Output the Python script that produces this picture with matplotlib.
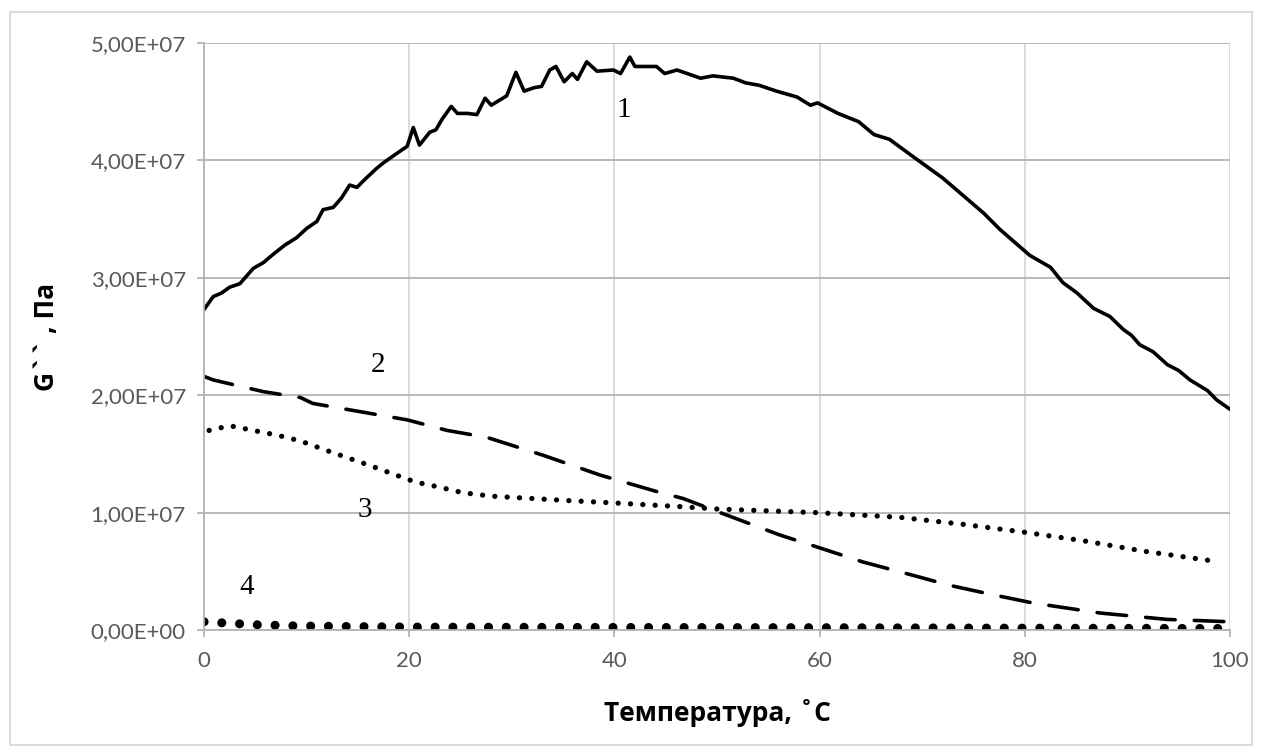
import matplotlib
matplotlib.use("Agg")
import matplotlib.pyplot as plt
from matplotlib.patches import Rectangle
from matplotlib.ticker import FuncFormatter
import numpy as np

# curve 1 (solid), values in units of 1e7 Pa
t1 = [0, 0.9, 1.7, 2.5, 3.5, 4.8, 5.8, 6.6, 7.9, 9.0, 10.0, 11.0, 11.6, 12.6, 13.4,
      14.2, 14.9, 15.7, 16.8, 17.5, 18.8, 19.8, 20.4, 21.0, 22.0, 22.6, 23.2, 24.1, 24.7,
      25.7, 26.6, 27.4, 28.0, 29.5, 30.4, 31.2, 32.2, 32.9, 33.7, 34.3, 35.1, 35.9, 36.4,
      37.3, 38.3, 39.9, 40.6, 41.5, 42.0, 44.1, 44.9, 46.1, 48.4, 49.6, 51.6, 52.8, 54.1,
      55.8, 57.8, 59.1, 59.8, 61.8, 63.8, 65.3, 66.8, 69.3, 72.0, 74.0, 76.0, 77.6, 80.5,
      82.5, 83.7, 85.1, 86.7, 88.3, 89.6, 90.4, 91.2, 92.5, 93.9, 95.0, 96.1, 97.8, 98.7, 100]
g1 = [2.73, 2.84, 2.87, 2.92, 2.95, 3.08, 3.13, 3.19, 3.28, 3.34, 3.42, 3.48, 3.58, 3.60, 3.68,
      3.79, 3.77, 3.84, 3.93, 3.98, 4.06, 4.12, 4.28, 4.13, 4.24, 4.26, 4.35, 4.46, 4.40,
      4.40, 4.39, 4.53, 4.47, 4.55, 4.75, 4.59, 4.62, 4.63, 4.77, 4.80, 4.67, 4.74, 4.69,
      4.84, 4.76, 4.77, 4.74, 4.88, 4.80, 4.80, 4.74, 4.77, 4.70, 4.72, 4.70, 4.66, 4.64,
      4.59, 4.54, 4.47, 4.49, 4.40, 4.33, 4.22, 4.18, 4.02, 3.85, 3.70, 3.55, 3.41, 3.19,
      3.09, 2.96, 2.87, 2.74, 2.67, 2.56, 2.51, 2.43, 2.37, 2.26, 2.21, 2.13, 2.04, 1.96, 1.88]

# curve 2 (dashed)
t2 = [0, 0.9, 5.8, 9.4, 10.6, 15.2, 19.8, 23.7, 27.6, 33.0, 38.6, 44.1, 46.7, 50.0, 56.1,
      60.0, 64.2, 68.5, 72.7, 76.9, 80.8, 87.3, 93.9, 97.0, 100]
g2 = [2.16, 2.13, 2.03, 1.98, 1.93, 1.86, 1.79, 1.70, 1.64, 1.49, 1.32, 1.18, 1.12, 1.01, 0.81,
      0.70, 0.58, 0.48, 0.38, 0.30, 0.23, 0.145, 0.09, 0.08, 0.07]

# curve 3 (dotted)
t3 = [0.5, 2.5, 4.8, 7.1, 9.4, 11.6, 13.9, 16.2, 18.4, 20.6, 22.8, 25.2, 28.0, 32.0, 36.0,
      39.4, 46.6, 50.1, 59.7, 67.8, 74.0, 79.8, 85.7, 91.7, 99.0]
g3 = [1.70, 1.74, 1.70, 1.66, 1.61, 1.54, 1.47, 1.40, 1.33, 1.26, 1.22, 1.17, 1.14, 1.12, 1.10,
      1.085, 1.05, 1.03, 1.00, 0.96, 0.90, 0.835, 0.76, 0.67, 0.58]

# curve 4 (big dots)
t4 = [0, 2, 5, 9, 14, 21, 40, 60, 80, 100]
g4 = [0.07, 0.06, 0.045, 0.035, 0.03, 0.025, 0.022, 0.02, 0.016, 0.013]

labels = ["1", "2", "3", "4"]
label_x = [40.9, 17.0, 15.7, 4.2]
label_y = [4.43, 2.26, 1.02, 0.37]

scale = 1e7
fig = plt.figure(figsize=(12.62, 7.48), dpi=100)
ax = fig.add_axes([204 / 1262, 1 - 630 / 748, (1230 - 204) / 1262, (630 - 43) / 748])

fig.patches.append(Rectangle((10 / 1262, 3 / 748), 1242 / 1262, 733 / 748,
                             transform=fig.transFigure, fill=False,
                             edgecolor="#d9d9d9", linewidth=1.3))

ax.plot(t1, np.array(g1) * scale, color="black", lw=2.6, solid_joinstyle="round",
        solid_capstyle="round")
ax.plot(t2, np.array(g2) * scale, color="black", lw=2.6, linestyle=(0, (8.2, 5.3)),
        dash_capstyle="round")
ax.plot(t3, np.array(g3) * scale, color="black", lw=3.8, linestyle=(0, (0.01, 2.33)),
        dash_capstyle="round")
ax.plot(t4, np.array(g4) * scale, color="black", lw=6.5, linestyle=(0, (0.01, 1.96)),
        dash_capstyle="round")

for s, x, y in zip(labels, label_x, label_y):
    ax.text(x, y * scale, s, fontsize=21, family="Liberation Serif",
            ha="center", va="center", color="black")

ax.set_xlim(0, 100)
ax.set_ylim(0, 5e7)
ax.set_xticks([0, 20, 40, 60, 80, 100])
ax.set_yticks(np.arange(0, 5.01e7, 1e7))
ax.yaxis.set_major_formatter(FuncFormatter(lambda v, p: f"{v:.2E}".replace(".", ",")))

ax.grid(axis="y", color="#b3b3b3", lw=1.3)
ax.grid(axis="x", color="#d9d9d9", lw=1.3)
ax.set_axisbelow(True)
for side in ["top", "right"]:
    ax.spines[side].set_visible(False)
ax.spines["left"].set_color("#b3b3b3")
ax.spines["bottom"].set_color("#b3b3b3")
ax.spines["left"].set_linewidth(1.3)
ax.spines["bottom"].set_linewidth(1.3)
ax.tick_params(axis="both", colors="#b3b3b3", labelcolor="#595959", length=5,
               width=1.3, labelsize=16)
for lab in ax.get_xticklabels() + ax.get_yticklabels():
    lab.set_family("Lato")
ax.tick_params(axis="y", pad=8)
ax.tick_params(axis="x", pad=10)

ax.set_xlabel("Температура, ˚C", fontsize=19, fontweight="bold", family="Open Sans",
              labelpad=20)
ax.set_ylabel("G`` , Па", fontsize=19, fontweight="bold", family="Open Sans",
              labelpad=22)

fig.savefig("out.png", dpi=100)
